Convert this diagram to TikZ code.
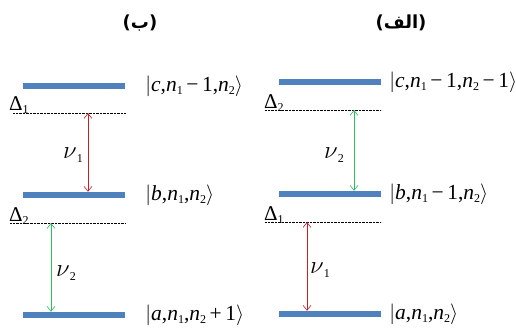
\documentclass[tikz,border=0pt]{standalone}
\usepackage{fontspec}
\setmainfont{Liberation Serif}
\newfontfamily\arabicfont[Script=Arabic]{DejaVu Sans}
\newfontfamily\parenfont{DejaVu Sans}
\TeXXeTstate=1
\usetikzlibrary{arrows.meta, positioning}
\definecolor{levelblue}{RGB}{79,129,189}
\definecolor{nured}{RGB}{200,30,40}
\definecolor{nugreen}{RGB}{40,190,90}
\newcommand{\idx}[1]{\raisebox{-0.35ex}{\fontsize{12}{12}\selectfont #1}}
\newcommand{\kt}[1]{$\big|$#1$\big\rangle$}
\tikzstyle{level} = [rectangle, fill=levelblue, minimum width=102pt, minimum height=6pt, inner sep=0pt]
\tikzstyle{ket} = [font=\fontsize{21.5}{24}\selectfont, inner sep=0pt, anchor=west]
\tikzstyle{detune} = [draw, densely dotted, thin]
\tikzstyle{trans} = [draw, {Straight Barb[length=5pt,width=8pt]}-{Straight Barb[length=5pt,width=8pt]}, semithick]
\tikzstyle{delta} = [font=\fontsize{21}{22}\selectfont, inner sep=0pt, anchor=base west]
\tikzstyle{freq} = [font=\fontsize{24}{26}\selectfont, inner sep=0pt]
\tikzstyle{title} = [font=\bfseries\fontsize{18}{20}\selectfont]

\begin{document}
\begin{tikzpicture}[x=1pt, y=-1pt]
    \useasboundingbox (0,0) rectangle (516,330);

    % (b) panel on the left
    \node (btitle) [title] at (140,23) {{\parenfont(}{\arabicfont\beginR ب\endR}{\parenfont)}};
    \node (bc) [level] at (74,86) {};
    \node (bb) [level] at (74,195) {};
    \node (ba) [level] at (74,315) {};
    \node (bketc) [ket, right=20pt of bc] {\kt{\textit{c},\textit{n}\idx{1}\,−\,1,\textit{n}\idx{2}}};
    \node (bketb) [ket, right=20pt of bb] {\kt{\textit{b},\textit{n}\idx{1},\textit{n}\idx{2}}};
    \node (bketa) [ket, right=20pt of ba] {\kt{\textit{a},\textit{n}\idx{1},\textit{n}\idx{2}\,+\,1}};

    \coordinate (bdel1) at (13,113);
    \coordinate (bdel2) at (10,223);
    \path [detune] (bdel1) -- (bdel1 -| bc.east);
    \path [detune] (bdel2) -- (bdel2 -| bb.east);
    \node (bD1) [delta] at (9,110) {Δ\idx{1}};
    \node (bD2) [delta] at (9,221) {Δ\idx{2}};

    \coordinate (bnu1) at (88,113);
    \coordinate (bnu2) at (51,223);
    \path [trans, nured] (bnu1) -- (bnu1 |- bb.north);
    \path [trans, nugreen] (bnu2) -- (bnu2 |- ba.north);
    \node (bf1) [freq] at (73,155) {$\nu$\idx{1}};
    \node (bf2) [freq] at (66,273) {$\nu$\idx{2}};

    % (alef) panel on the right
    \node (atitle) [title] at (401,23) {{\parenfont(}{\arabicfont\beginR الف\endR}{\parenfont)}};
    \node (ac) [level] at (330,82) {};
    \node (ab) [level] at (330,194) {};
    \node (aa) [level] at (330,314) {};
    \node (aketc) [ket, right=8pt of ac] {\kt{\textit{c},\textit{n}\idx{1}\,−\,1,\textit{n}\idx{2}\,−\,1}};
    \node (aketb) [ket, right=8pt of ab] {\kt{\textit{b},\textit{n}\idx{1}\,−\,1,\textit{n}\idx{2}}};
    \node (aketa) [ket, right=8pt of aa] {\kt{\textit{a},\textit{n}\idx{1},\textit{n}\idx{2}}};

    \coordinate (adel2) at (265,110);
    \coordinate (adel1) at (265,222);
    \path [detune] (adel2) -- (adel2 -| ac.east);
    \path [detune] (adel1) -- (adel1 -| ab.east);
    \node (aD2) [delta] at (264,108) {Δ\idx{2}};
    \node (aD1) [delta] at (264,220) {Δ\idx{1}};

    \coordinate (anu2) at (354,110);
    \coordinate (anu1) at (307,222);
    \path [trans, nugreen] (anu2) -- (anu2 |- ab.north);
    \path [trans, nured] (anu1) -- (anu1 |- aa.north);
    \node (af2) [freq] at (334,155) {$\nu$\idx{2}};
    \node (af1) [freq] at (320,270) {$\nu$\idx{1}};

\end{tikzpicture}
\end{document}
